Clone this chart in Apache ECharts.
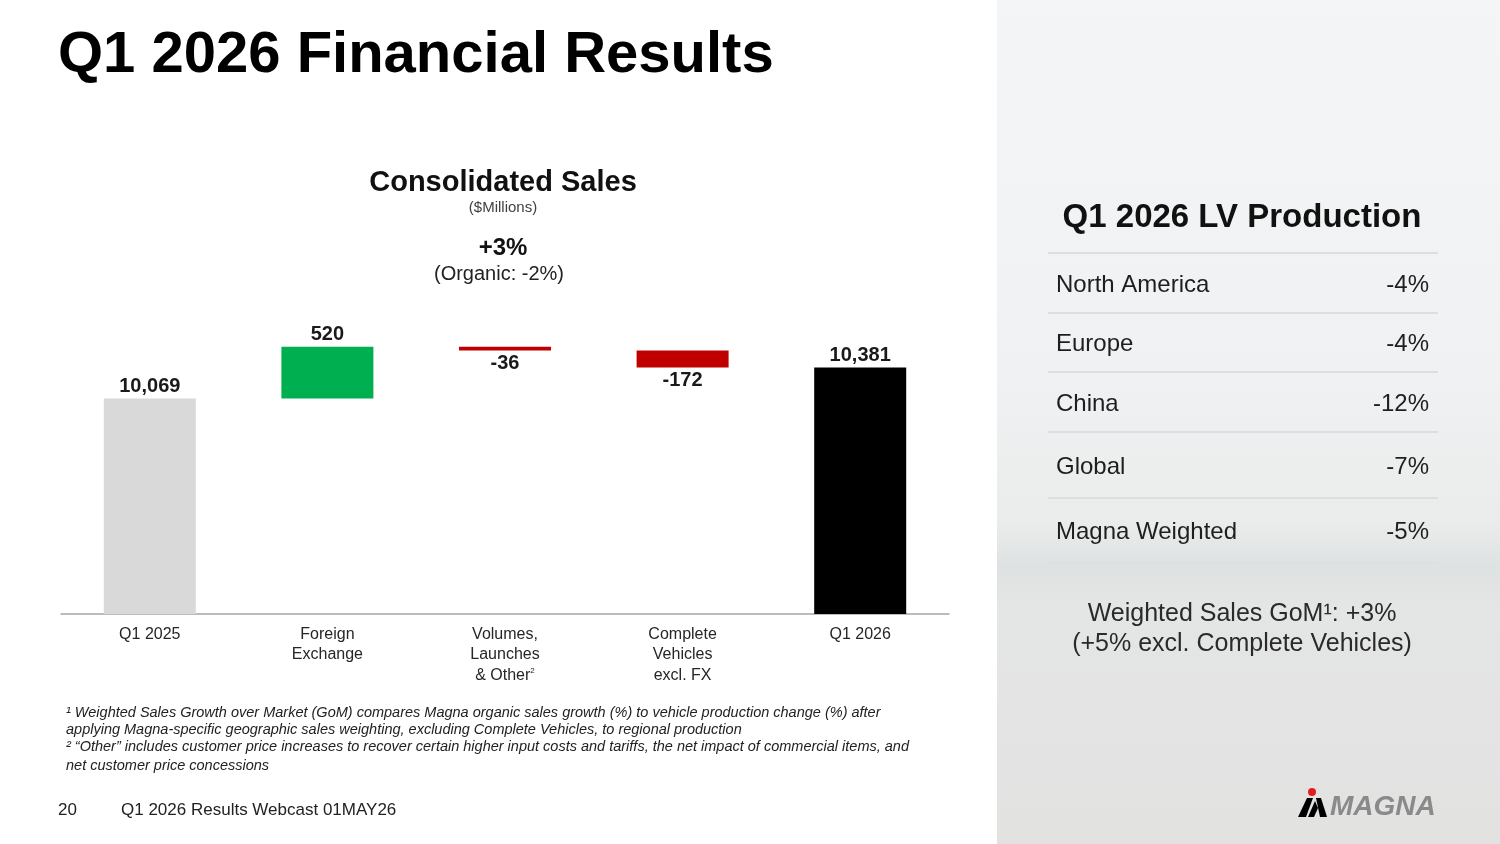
<!DOCTYPE html>
<html>
<head>
<meta charset="utf-8">
<script src="https://cdn.jsdelivr.net/npm/echarts@6/dist/echarts.min.js"></script>
<style>
html,body{margin:0;padding:0;background:#fff;}
#c{width:1500px;height:844px;}
</style>
</head>
<body>
<div id="c"></div>
<script>
// ---- data ----
const categories = ['Q1 2025', 'Foreign\nExchange', 'Volumes,\nLaunches\n& Other{sup|2}', 'Complete\nVehicles\nexcl. FX', 'Q1 2026'];
const startValue = 10069;
const changes = [520, -36, -172];
const endValue = 10381;
const lvRegions = ['North America', 'Europe', 'China', 'Global', 'Magna Weighted'];
const lvValues = ['-4%', '-4%', '-12%', '-7%', '-5%'];
const footnotes = [
  '\u00b9 Weighted Sales Growth over Market (GoM) compares Magna organic sales growth (%) to vehicle production change (%) after',
  'applying Magna-specific geographic sales weighting, excluding Complete Vehicles, to regional production',
  '\u00b2 \u201cOther\u201d includes customer price increases to recover certain higher input costs and tariffs, the net impact of commercial items, and',
  'net customer price concessions'
];

// ---- waterfall build ----
const baseData = [0], totalData = [startValue], upData = ['-'], downData = ['-'];
let running = startValue;
changes.forEach(c => {
  if (c >= 0) { baseData.push(running); upData.push(c); downData.push('-'); }
  else { baseData.push(running + c); downData.push(-c); upData.push('-'); }
  totalData.push('-');
  running += c;
});
baseData.push(0); totalData.push(endValue); upData.push('-'); downData.push('-');

const FONT = "'Liberation Sans', Arial, sans-serif";
const fmt = v => v.toLocaleString('en-US');

const chart = echarts.init(document.getElementById('c'));

// ---- graphics ----
const g = [];
g.push({
  type: 'rect', z: -10, silent: true,
  shape: { x: 997, y: 0, width: 503, height: 844 },
  style: {
    fill: new echarts.graphic.LinearGradient(0, 0, 0, 1, [
      { offset: 0, color: '#f4f5f6' },
      { offset: 0.45, color: '#eff1f2' },
      { offset: 0.62, color: '#eaecec' },
      { offset: 0.67, color: '#dfe2e2' },
      { offset: 0.72, color: '#e4e5e5' },
      { offset: 1, color: '#e2e2e1' }
    ])
  }
});
function txt(x, y, text, size, opts) {
  opts = opts || {};
  g.push({
    type: 'text', x: x, y: y, silent: true,
    style: {
      text: text, fontSize: size, fontFamily: FONT,
      fontWeight: opts.bold ? 'bold' : 'normal',
      fontStyle: opts.italic ? 'italic' : 'normal',
      fill: opts.color || '#1a1a1a',
      align: opts.align || 'left', verticalAlign: 'middle'
    }
  });
}
txt(58, 56, 'Q1 2026 Financial Results', 58, { bold: true, color: '#000' });
txt(503, 183, 'Consolidated Sales', 29, { bold: true, align: 'center', color: '#111' });
txt(503, 208, '($Millions)', 15, { align: 'center', color: '#404040' });
txt(503, 248, '+3%', 24, { bold: true, align: 'center', color: '#111' });
txt(499, 274, '(Organic: -2%)', 20, { align: 'center', color: '#222' });
const fnY = [713, 730, 747, 766];
footnotes.forEach((t, i) => txt(66, fnY[i], t, 14.5, { italic: true, color: '#222' }));
txt(58, 810, '20', 17, { color: '#222' });
txt(121, 810, 'Q1 2026 Results Webcast 01MAY26', 17, { color: '#222' });

// right table
txt(1242, 218, 'Q1 2026 LV Production', 33, { bold: true, align: 'center', color: '#111' });
const lineY = [253, 313, 372, 432, 498, 563];
lineY.forEach(y => g.push({
  type: 'line', silent: true,
  shape: { x1: 1048, y1: y, x2: 1438, y2: y },
  style: { stroke: '#dcdedf', lineWidth: 2 }
}));
lvRegions.forEach((r, i) => {
  const y = (lineY[i] + lineY[i + 1]) / 2 + 2;
  txt(1056, y, r, 24, { color: '#1e1e1e' });
  txt(1429, y, lvValues[i], 24, { align: 'right', color: '#1e1e1e' });
});
txt(1242, 614, 'Weighted Sales GoM\u00b9: +3%', 25, { align: 'center', color: '#2a2a2a' });
txt(1242, 644, '(+5% excl. Complete Vehicles)', 25, { align: 'center', color: '#2a2a2a' });

// logo
g.push({ type: 'polygon', silent: true, shape: { points: [[1298, 817], [1307, 798], [1313, 798], [1306, 817]] }, style: { fill: '#000' } });
g.push({ type: 'polygon', silent: true, shape: { points: [[1308, 817], [1315, 801], [1318, 808], [1314, 817]] }, style: { fill: '#000' } });
g.push({ type: 'polygon', silent: true, shape: { points: [[1316, 798], [1321, 798], [1327, 817], [1320, 817]] }, style: { fill: '#000' } });
g.push({ type: 'circle', silent: true, shape: { cx: 1312, cy: 792, r: 4 }, style: { fill: '#e31b23' } });
txt(1330, 807, 'MAGNA', 28, { bold: true, italic: true, color: '#8a8a8a' });

const labelStyle = { show: true, fontFamily: FONT, fontWeight: 'bold', fontSize: 20, color: '#1a1a1a' };

chart.setOption({
  animation: false,
  backgroundColor: '#ffffff',
  grid: { left: 61, right: 551, top: 300, bottom: 230 },
  xAxis: {
    type: 'category',
    data: categories,
    axisLine: { lineStyle: { color: '#a6a6a6', width: 1.5 } },
    axisTick: { show: false },
    axisLabel: {
      fontFamily: FONT, fontSize: 16, color: '#262626', lineHeight: 20.5, margin: 10, interval: 0,
      rich: { sup: { fontSize: 8, fontFamily: FONT, color: '#262626', padding: [0, 0, 8, 0] } }
    }
  },
  yAxis: { type: 'value', min: 7900, max: 11060, show: false, splitLine: { show: false } },
  series: [
    { type: 'bar', stack: 'w', data: baseData, barWidth: 92, itemStyle: { color: 'transparent' }, silent: true },
    {
      type: 'bar', stack: 'w', data: totalData, barWidth: 92,
      itemStyle: { color: p => (p.dataIndex === 0 ? '#d9d9d9' : '#000000') },
      label: Object.assign({}, labelStyle, { position: 'top', distance: 2, formatter: p => fmt(p.value) })
    },
    {
      type: 'bar', stack: 'w', data: upData, barWidth: 92, itemStyle: { color: '#00b050' },
      label: Object.assign({}, labelStyle, { position: 'top', distance: 2, formatter: p => fmt(p.value) })
    },
    {
      type: 'bar', stack: 'w', data: downData, barWidth: 92, itemStyle: { color: '#c00000' },
      label: Object.assign({}, labelStyle, { position: 'bottom', distance: 3, formatter: p => fmt(changes[p.dataIndex - 1]) })
    }
  ],
  graphic: g
});
</script>
</body>
</html>
